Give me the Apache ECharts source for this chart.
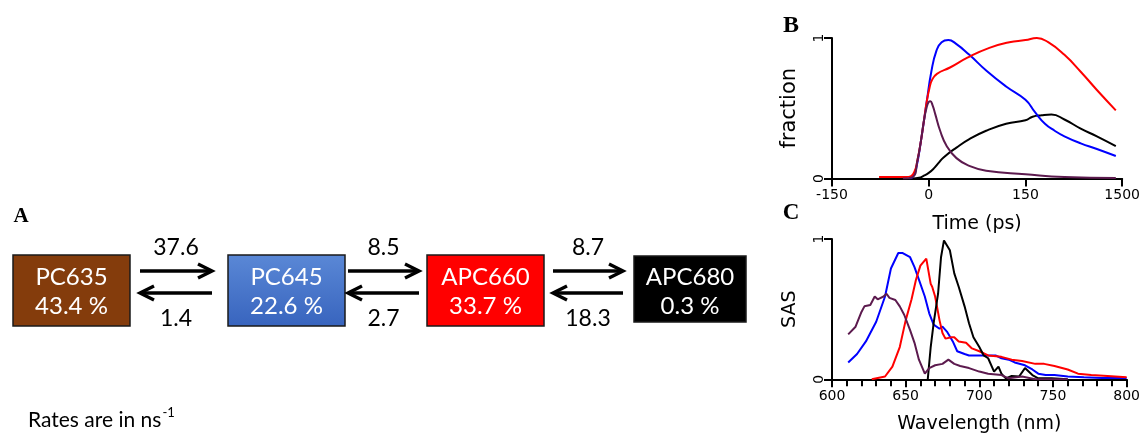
<!DOCTYPE html>
<html>
<head>
<meta charset="utf-8">
<title>Energy transfer model and kinetics</title>
<script src="https://cdn.jsdelivr.net/npm/echarts@6/dist/echarts.min.js"></script>
<style>
  html, body { margin: 0; padding: 0; background: #ffffff; }
  #chart { width: 1143px; height: 436px; }
</style>
</head>
<body>
<div id="chart"></div>
<script>
// ---- Panel A: compartment model ----
const species = ['PC635', 'PC645', 'APC660', 'APC680'];
const populations = [43.4, 22.6, 33.7, 0.3];
const forwardRates = [37.6, 8.5, 8.7];
const backwardRates = [1.4, 2.7, 18.3];

// ---- Panel B: population kinetics, time in ps ----
const timeTicks = [-150, 0, 150, 1500];
const kinPC635 = [[-40, 0], [-25, 0.01], [-17.5, 0.13], [-12, 0.27], [-7.5, 0.41], [-3, 0.51], [0, 0.545], [2.5, 0.55], [6, 0.52], [10, 0.46], [17.7, 0.34], [28, 0.23], [43, 0.145], [63, 0.09], [89, 0.055], [150, 0.03], [694, 0.01], [1411, 0.003]];
const kinPC645 = [[-30, 0], [-25, 0.01], [-20, 0.06], [-12, 0.27], [-3, 0.55], [4, 0.76], [12, 0.91], [20, 0.97], [30.5, 0.985], [42, 0.96], [63, 0.88], [90, 0.765], [120, 0.655], [150, 0.56], [286, 0.47], [422, 0.39], [558, 0.34], [694, 0.30], [921, 0.25], [1147, 0.21], [1411, 0.16]];
const kinAPC660 = [[-77, 0.01], [-35, 0.01], [-28, 0.015], [-22, 0.05], [-17.5, 0.13], [-12, 0.27], [-7.5, 0.41], [-3, 0.55], [1, 0.64], [5, 0.70], [12.7, 0.745], [33, 0.79], [60, 0.86], [94, 0.93], [125, 0.97], [150, 0.985], [309, 1.0], [467, 0.97], [694, 0.88], [921, 0.76], [1147, 0.63], [1411, 0.485]];
const kinAPC680 = [[-25, 0], [-15, 0.005], [-7.5, 0.02], [0, 0.04], [7.6, 0.07], [15, 0.11], [23, 0.15], [43, 0.22], [63, 0.28], [89, 0.34], [120, 0.39], [150, 0.415], [250, 0.44], [377, 0.45], [513, 0.455], [694, 0.42], [921, 0.355], [1147, 0.30], [1411, 0.23]];

// ---- Panel C: species-associated spectra, wavelength in nm ----
const sasPC635 = [[611, 0.32], [616, 0.375], [620, 0.48], [622, 0.52], [626, 0.53], [629, 0.59], [631, 0.57], [635, 0.59], [637, 0.61], [639, 0.58], [643, 0.565], [646, 0.52], [649, 0.46], [653, 0.35], [656, 0.26], [659, 0.14], [663, 0.04], [666, 0.08], [670, 0.10], [675, 0.11], [679, 0.14], [683, 0.11], [687, 0.095], [693, 0.08], [700, 0.055], [706, 0.04], [715, 0.03], [720, 0.007], [729, 0.02], [738, 0], [760, 0]];
const sasPC645 = [[611, 0.12], [617, 0.18], [623, 0.27], [630, 0.41], [636, 0.59], [640, 0.79], [645, 0.90], [648, 0.90], [653, 0.87], [656, 0.80], [659, 0.71], [663, 0.59], [666, 0.47], [669, 0.39], [673, 0.36], [675, 0.375], [678, 0.34], [682, 0.27], [685, 0.20], [690, 0.18], [693, 0.17], [697, 0.17], [704, 0.17], [711, 0.17], [715, 0.15], [720, 0.14], [724, 0.12], [731, 0.10], [736, 0.07], [740, 0.04], [745, 0.03], [751, 0.03], [760, 0.02], [771, 0.015], [783, 0.01], [800, 0.01]];
const sasAPC660 = [[627, 0], [636, 0.02], [637, 0.03], [641, 0.09], [646, 0.23], [650, 0.42], [654, 0.57], [657, 0.71], [660, 0.81], [664, 0.86], [665, 0.87], [667, 0.68], [668, 0.66], [670, 0.59], [673, 0.42], [675, 0.33], [677, 0.29], [681, 0.30], [683, 0.30], [686, 0.27], [691, 0.26], [695, 0.22], [700, 0.20], [706, 0.17], [715, 0.16], [722, 0.14], [729, 0.13], [738, 0.11], [744, 0.11], [751, 0.095], [760, 0.07], [767, 0.04], [776, 0.03], [787, 0.024], [800, 0.014]];
const sasAPC680 = [[665, 0], [667, 0.23], [669, 0.40], [672, 0.61], [674, 0.87], [676, 0.99], [677, 1.0], [680, 0.92], [683, 0.755], [686, 0.66], [690, 0.52], [693, 0.40], [696, 0.30], [700, 0.23], [703, 0.17], [706, 0.15], [710, 0.055], [713, 0.09], [715, 0.04], [718, 0.007], [722, 0.024], [727, 0.02], [731, 0.08], [736, 0.03], [740, 0.007], [749, 0.007], [760, 0]];

const colPC635 = '#5c1a4e';
const colPC645 = '#0000ff';
const colAPC660 = '#ff0000';
const colAPC680 = '#000000';

// Broken time axis: -150..0, 0..150 and 150..1500 each get one unit of width.
function timeToAxis(t) {
  for (let i = 0; i < timeTicks.length - 1; i++) {
    const a = timeTicks[i], b = timeTicks[i + 1];
    if (t <= b || i === timeTicks.length - 2) {
      return i - 1 + (t - a) / (b - a);
    }
  }
}
const onTimeAxis = pts => pts.map(p => [timeToAxis(p[0]), p[1]]);

const plotFont = 'DejaVu Sans';
const diagramFont = 'Lato';

function axisBase(gridIndex) {
  return {
    gridIndex: gridIndex,
    type: 'value',
    axisLine: { show: true, onZero: false, lineStyle: { color: '#000', width: 2 } },
    axisTick: { show: true, length: 8, lineStyle: { color: '#000', width: 2 } },
    axisLabel: { color: '#000', fontFamily: plotFont, fontSize: 14 },
    splitLine: { show: false },
    nameLocation: 'middle',
    nameTextStyle: { color: '#000', fontFamily: plotFont, fontSize: 19 }
  };
}

function yAxisFor(gridIndex, title, size) {
  const ax = axisBase(gridIndex);
  ax.min = 0; ax.max = 1; ax.interval = 1;
  ax.axisLabel = Object.assign({}, ax.axisLabel, { rotate: 90, margin: 6 });
  ax.name = title;
  ax.nameGap = 32;
  ax.nameTextStyle = Object.assign({}, ax.nameTextStyle, { fontSize: size });
  return ax;
}

const xTime = axisBase(0);
xTime.min = -1; xTime.max = 2; xTime.interval = 1;
xTime.axisLabel = Object.assign({}, xTime.axisLabel, {
  margin: 10,
  formatter: v => String(timeTicks[Math.round(v) + 1])
});
xTime.name = 'Time (ps)';
xTime.nameGap = 36;

const xWave = axisBase(1);
xWave.min = 600; xWave.max = 800; xWave.interval = 50;
xWave.minorTick = { show: true, splitNumber: 5, length: 7, lineStyle: { color: '#000', width: 2 } };
xWave.axisLabel = Object.assign({}, xWave.axisLabel, { margin: 10 });
xWave.name = 'Wavelength (nm)';
xWave.nameGap = 35;

function lineSeries(name, xi, data, color, smooth) {
  return {
    name: name, type: 'line', xAxisIndex: xi, yAxisIndex: xi,
    data: data, showSymbol: false, symbol: 'none',
    smooth: smooth,
    lineStyle: { color: color, width: 2 }, animation: false
  };
}

// ---- Panel A drawing ----
const boxX = [13, 228, 427, 634];
const boxW = [117, 117, 117, 112];
const boxY = [255, 255, 255, 256];
const boxH = [71, 71, 71, 66];
const boxFill = [
  '#843c0c',
  new echarts.graphic.LinearGradient(0, 0, 0, 1, [
    { offset: 0, color: '#5a88d6' }, { offset: 1, color: '#3864be' }
  ]),
  '#ff0000',
  '#000000'
];
const arrowSpan = [[140, 212], [348, 419], [553, 623]];
const arrowFwdY = 271, arrowBackY = 293;

const graphics = [];
function addText(x, y, txt, size, color, family, weight, align) {
  const a = align || 'center';
  graphics.push({
    type: 'text', x: x, y: y, silent: true,
    style: {
      text: txt, fill: color, font: (weight || 'normal') + ' ' + size + 'px "' + family + '"',
      align: a, verticalAlign: 'middle', textAlign: a, textVerticalAlign: 'middle'
    }
  });
}
species.forEach((s, i) => {
  graphics.push({
    type: 'rect', silent: true,
    shape: { x: boxX[i], y: boxY[i], width: boxW[i], height: boxH[i] },
    style: { fill: boxFill[i], stroke: '#1a1a1a', lineWidth: 1.5 }
  });
  const cx = boxX[i] + boxW[i] / 2;
  addText(cx, 277.5, s, 24, '#ffffff', diagramFont);
  addText(cx, 306, populations[i].toFixed(1) + ' %', 24, '#ffffff', diagramFont);
});
arrowSpan.forEach((sp, i) => {
  const [x0, x1] = sp;
  const line = { lineWidth: 3.4, stroke: '#000', fill: null, lineCap: 'butt', lineJoin: 'miter' };
  graphics.push({ type: 'polyline', silent: true, shape: { points: [[x0, arrowFwdY], [x1 - 1, arrowFwdY]] }, style: line });
  graphics.push({ type: 'polyline', silent: true, shape: { points: [[x1 - 14, arrowFwdY - 7], [x1, arrowFwdY], [x1 - 14, arrowFwdY + 7]] }, style: line });
  graphics.push({ type: 'polyline', silent: true, shape: { points: [[x1, arrowBackY], [x0 + 1, arrowBackY]] }, style: line });
  graphics.push({ type: 'polyline', silent: true, shape: { points: [[x0 + 14, arrowBackY - 7], [x0, arrowBackY], [x0 + 14, arrowBackY + 7]] }, style: line });
  const cx = (x0 + x1) / 2;
  addText(cx, 247.5, String(forwardRates[i]), 23, '#000', diagramFont);
  addText(cx, 318.5, String(backwardRates[i]), 23, '#000', diagramFont);
});

// Units note with a raised "-1" exponent placed after the measured base text
const unitBase = 'Rates are in ns';
const measureCtx = document.createElement('canvas').getContext('2d');
measureCtx.font = '21px "' + diagramFont + '"';
const unitWidth = measureCtx.measureText(unitBase).width;
addText(28, 420, unitBase, 21, '#000', diagramFont, 'normal', 'left');
addText(28 + unitWidth + 1, 413, '-1', 13, '#000', diagramFont, 'normal', 'left');

// Panel letters
addText(21, 216.5, 'A', 21, '#000', 'Liberation Serif', 'bold');
addText(791, 26, 'B', 24, '#000', 'Liberation Serif', 'bold');
addText(791, 213, 'C', 23, '#000', 'Liberation Serif', 'bold');

const chart = echarts.init(document.getElementById('chart'), null, { renderer: 'canvas' });
chart.setOption({
  animation: false,
  backgroundColor: '#ffffff',
  grid: [
    { left: 832, right: 14, top: 38, height: 140.5 },
    { left: 832, right: 14, top: 239, height: 140.3 }
  ],
  xAxis: [xTime, xWave],
  yAxis: [yAxisFor(0, 'fraction', 21), yAxisFor(1, 'SAS', 19)],
  series: [
    lineSeries('APC680', 0, onTimeAxis(kinAPC680), colAPC680, 0.5),
    lineSeries('PC645', 0, onTimeAxis(kinPC645), colPC645, 0.5),
    lineSeries('APC660', 0, onTimeAxis(kinAPC660), colAPC660, 0.5),
    lineSeries('PC635', 0, onTimeAxis(kinPC635), colPC635, 0.5),
    lineSeries('PC645', 1, sasPC645, colPC645, false),
    lineSeries('APC660', 1, sasAPC660, colAPC660, false),
    lineSeries('APC680', 1, sasAPC680, colAPC680, false),
    lineSeries('PC635', 1, sasPC635, colPC635, false)
  ],
  graphic: { elements: graphics }
});
</script>
</body>
</html>
